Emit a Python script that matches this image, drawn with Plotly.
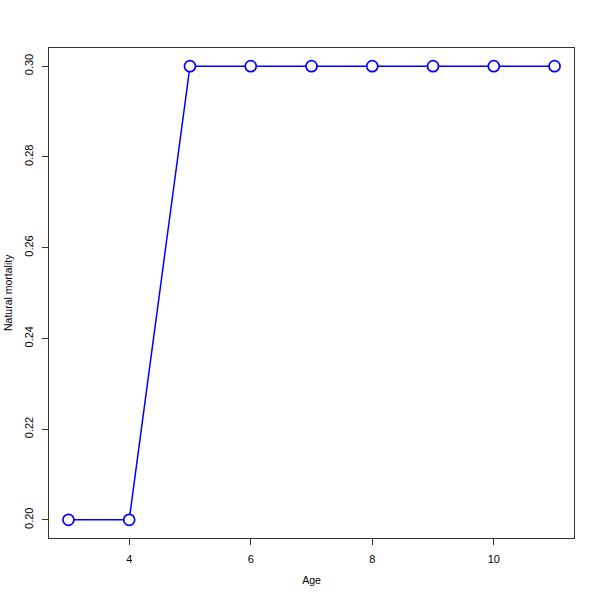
import plotly.graph_objects as go

ages = [3, 4, 5, 6, 7, 8, 9, 10, 11]
mortality = [0.20, 0.20, 0.30, 0.30, 0.30, 0.30, 0.30, 0.30, 0.30]
x_ticks = [4, 6, 8, 10]
y_ticks = [0.20, 0.22, 0.24, 0.26, 0.28, 0.30]
y_tick_labels = ["0.20", "0.22", "0.24", "0.26", "0.28", "0.30"]

fig = go.Figure()
fig.add_trace(go.Scatter(
    x=ages, y=mortality, mode="lines+markers",
    line=dict(color="blue", width=1.5),
    marker=dict(symbol="circle", size=11, color="white",
                line=dict(color="blue", width=1.7)),
    showlegend=False,
))

xmin, xmax = min(ages), max(ages)
ymin, ymax = min(mortality), max(mortality)
xpad = (xmax - xmin) * 0.04
ypad = (ymax - ymin) * 0.04

axis_common = dict(
    showgrid=False, zeroline=False, showline=True, mirror=True,
    linecolor="#333333", linewidth=1, ticks="outside", ticklen=6,
    tickcolor="#333333", automargin=False, ticklabelstandoff=5,
    tickfont=dict(family="Liberation Sans, Arial", size=11, color="black"),
)

fig.update_layout(
    width=600, height=600,
    margin=dict(l=49, r=26, t=48, b=62),
    plot_bgcolor="white", paper_bgcolor="white",
    font=dict(family="Liberation Sans, Arial", size=11, color="black"),
    xaxis=dict(range=[xmin - xpad, xmax + xpad], tickvals=x_ticks,
               title=dict(text="Age", standoff=12, font=dict(size=10.5)), **axis_common),
    yaxis=dict(range=[ymin - ypad, ymax + ypad], tickvals=y_ticks,
               ticktext=y_tick_labels, tickangle=-90, **axis_common),
    annotations=[dict(text="Natural mortality", xref="paper", yref="paper",
                      x=0, y=0.5, xanchor="center", yanchor="middle",
                      xshift=-41, textangle=-90, showarrow=False,
                      font=dict(size=10.5))],
)

fig.write_html("out.html", config={"displayModeBar": False},
               post_script="document.body.style.margin='0px';")
